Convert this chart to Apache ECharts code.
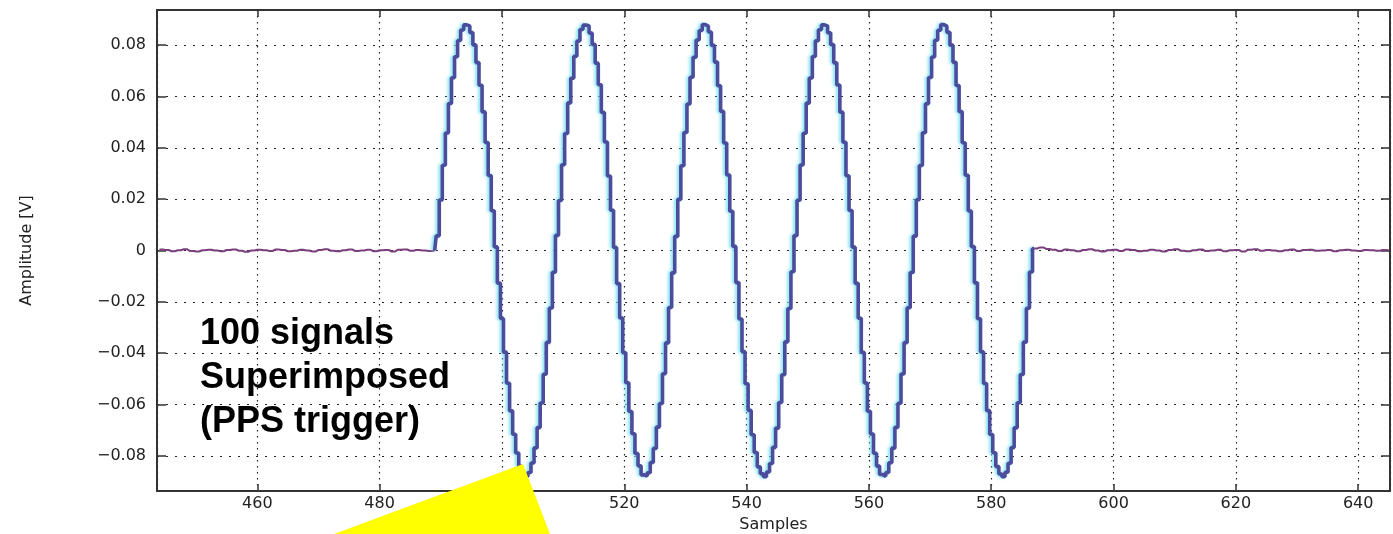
<!DOCTYPE html>
<html>
<head>
<meta charset="utf-8">
<script src="https://cdn.jsdelivr.net/npm/echarts@6/dist/echarts.min.js"></script>
<style>
  html, body { margin: 0; padding: 0; background: #fff; }
  #chart { width: 1393px; height: 534px; }
</style>
</head>
<body>
<div id="chart"></div>
<script>
// sample axis range
const xMin = 443.6;
const xMax = 645.2;
const yMin = -0.0937;
const yMax = 0.0937;

// flat part before the trigger, one value per sample from 444
const preStart = 444;
const preValues = [
    0.0004, 0.0002, -0.0003, 0.0001, 0.0005, -0.0002, -0.0004, 0.0001, 0.0003, 0.0000,
    -0.0003, 0.0002, 0.0004, -0.0001, -0.0005, 0.0000, 0.0003, 0.0001, -0.0002, 0.0004,
    0.0002, -0.0003, -0.0001, 0.0003, 0.0000, -0.0004, 0.0002, 0.0005, -0.0001, -0.0003,
    0.0001, 0.0004, -0.0002, 0.0000, 0.0003, -0.0003, 0.0001, 0.0002, -0.0004, 0.0003,
    0.0004, -0.0001, 0.0002, 0.0000, -0.0002, 0.0000
];

// 5 cycle burst, read every half sample from 489
const burstStart = 489;
const burstStep = 0.5;
const burstValues = [
    0.0000,
    0.0057, 0.0197, 0.0332, 0.0458, 0.0573, 0.0673, 0.0755, 0.0818, 0.0859, 0.0879, 0.0875, 0.0849, 0.0801,
    0.0732, 0.0644, 0.0540, 0.0421, 0.0292, 0.0155, 0.0014, -0.0127, -0.0265, -0.0396, -0.0517, -0.0625,
    -0.0716, -0.0789, -0.0841, -0.0872, -0.0880, -0.0865, -0.0828, -0.0769, -0.0690, -0.0594, -0.0482, -0.0358, -0.0224, -0.0085,
    0.0059, 0.0195, 0.0334, 0.0456, 0.0575, 0.0671, 0.0757, 0.0816, 0.0861, 0.0878, 0.0876, 0.0847, 0.0803,
    0.0730, 0.0646, 0.0538, 0.0423, 0.0290, 0.0157, 0.0012, -0.0129, -0.0263, -0.0398, -0.0515, -0.0627,
    -0.0714, -0.0791, -0.0839, -0.0874, -0.0879, -0.0866, -0.0826, -0.0771, -0.0688, -0.0596, -0.0480, -0.0360, -0.0222, -0.0087,
    0.0055, 0.0199, 0.0330, 0.0460, 0.0571, 0.0675, 0.0753, 0.0820, 0.0857, 0.0880, 0.0874, 0.0851, 0.0799,
    0.0734, 0.0642, 0.0542, 0.0419, 0.0294, 0.0153, 0.0016, -0.0125, -0.0267, -0.0394, -0.0519, -0.0623,
    -0.0718, -0.0787, -0.0843, -0.0870, -0.0881, -0.0863, -0.0830, -0.0767, -0.0692, -0.0592, -0.0484, -0.0356, -0.0226, -0.0083,
    0.0058, 0.0196, 0.0333, 0.0457, 0.0574, 0.0672, 0.0756, 0.0817, 0.0860, 0.0879, 0.0875, 0.0848, 0.0802,
    0.0731, 0.0645, 0.0539, 0.0422, 0.0291, 0.0156, 0.0013, -0.0128, -0.0264, -0.0397, -0.0516, -0.0626,
    -0.0715, -0.0790, -0.0840, -0.0873, -0.0880, -0.0865, -0.0827, -0.0770, -0.0689, -0.0595, -0.0481, -0.0359, -0.0223, -0.0086,
    0.0056, 0.0198, 0.0331, 0.0459, 0.0572, 0.0674, 0.0754, 0.0819, 0.0858, 0.0880, 0.0874, 0.0850, 0.0800,
    0.0733, 0.0643, 0.0541, 0.0420, 0.0293, 0.0154, 0.0015, -0.0126, -0.0266, -0.0395, -0.0518, -0.0624,
    -0.0717, -0.0788, -0.0842, -0.0871, -0.0881, -0.0864, -0.0829, -0.0768, -0.0691, -0.0593, -0.0483, -0.0357, -0.0225, -0.0084,
    0.0008
];

// flat part after the burst, one value per sample from 587
const postStart = 587;
const postValues = [
    0.0008, 0.0012, 0.0006, 0.0003, -0.0002, 0.0004, 0.0001, -0.0003, 0.0002, 0.0005,
    0.0000, -0.0004, 0.0001, 0.0003, -0.0002, 0.0004, 0.0002, -0.0003, -0.0001, 0.0003,
    0.0000, -0.0004, 0.0002, 0.0005, -0.0001, -0.0003, 0.0001, 0.0004, -0.0002, 0.0000,
    0.0003, -0.0003, 0.0001, 0.0002, -0.0004, 0.0003, 0.0005, -0.0001, 0.0002, 0.0000,
    -0.0003, 0.0001, 0.0004, -0.0002, 0.0002, 0.0003, -0.0001, 0.0000, 0.0002, -0.0003,
    0.0001, 0.0003, 0.0000, -0.0002, 0.0002, 0.0001, -0.0001, 0.0002, 0.0001
];

const noteLines = ['100 signals', 'Superimposed', '(PPS trigger)'];

function pairs(start, step, values) {
    return values.map((v, i) => [start + i * step, v]);
}

const chart = echarts.init(document.getElementById('chart'));

const tickFont = { fontFamily: 'DejaVu Sans', fontSize: 16, color: '#222' };
const frame = { show: true, onZero: false, lineStyle: { color: '#333', width: 2 } };

const option = {
    animation: false,
    backgroundColor: '#fff',
    grid: { left: 157, right: 3, top: 10, bottom: 43, outerBoundsMode: 'none', containLabel: false },
    xAxis: [
        {
            type: 'value',
            min: xMin,
            max: xMax,
            splitNumber: 10,
            name: 'Samples',
            nameLocation: 'middle',
            nameGap: 26,
            nameTextStyle: tickFont,
            axisLine: frame,
            axisTick: { inside: true, length: 7, lineStyle: { color: '#333', width: 1.5 } },
            axisLabel: Object.assign({ margin: 5, showMinLabel: false, showMaxLabel: false }, tickFont),
            splitLine: { show: true, lineStyle: { color: '#222', width: 1.2, type: [1.5, 4.5] } }
        },
        {
            type: 'value',
            position: 'top',
            min: xMin,
            max: xMax,
            splitNumber: 10,
            axisLine: frame,
            axisTick: { inside: true, length: 7, lineStyle: { color: '#333', width: 1.5 } },
            axisLabel: { show: false },
            splitLine: { show: false }
        }
    ],
    yAxis: [
        {
            type: 'value',
            min: yMin,
            max: yMax,
            splitNumber: 10,
            name: 'Amplitude [V]',
            nameLocation: 'middle',
            nameGap: 122,
            nameTextStyle: tickFont,
            axisLine: frame,
            axisTick: { inside: true, length: 9, lineStyle: { color: '#333', width: 1.5 } },
            axisLabel: Object.assign({
                margin: 11,
                showMinLabel: false,
                showMaxLabel: false,
                formatter: function (v) {
                    if (Math.abs(v) < 1e-9) return '0';
                    return (v < 0 ? '\u2212' : '') + Math.abs(v).toFixed(2);
                }
            }, tickFont),
            splitLine: { show: true, lineStyle: { color: '#222', width: 1.2, type: [2, 7] } }
        },
        {
            type: 'value',
            position: 'right',
            min: yMin,
            max: yMax,
            splitNumber: 10,
            axisLine: frame,
            axisTick: { inside: true, length: 9, lineStyle: { color: '#333', width: 1.5 } },
            axisLabel: { show: false },
            splitLine: { show: false }
        }
    ],
    series: [
        {
            name: 'pre',
            type: 'line',
            step: 'middle',
            showSymbol: false,
            z: 3,
            lineStyle: { color: '#7a3f7c', width: 2 },
            data: pairs(preStart, 1, preValues)
        },
        {
            name: 'post',
            type: 'line',
            step: 'middle',
            showSymbol: false,
            z: 3,
            lineStyle: { color: '#7a3f7c', width: 2 },
            data: pairs(postStart, 1, postValues)
        },
        {
            name: 'burst',
            type: 'line',
            step: 'middle',
            showSymbol: false,
            z: 4,
            lineStyle: {
                color: '#4b4c9c',
                width: 3.6,
                shadowColor: 'rgba(120, 225, 240, 0.9)',
                shadowBlur: 3,
                shadowOffsetX: -2
            },
            data: pairs(burstStart, burstStep, burstValues)
        }
    ],
    graphic: [
        {
            type: 'text',
            left: 200,
            top: 312,
            z: 50,
            style: {
                text: noteLines.join('\n'),
                font: 'bold 36px "Liberation Sans", Arial, sans-serif',
                fill: '#000',
                lineHeight: 44
            }
        },
        {
            type: 'polygon',
            z: 60,
            shape: { points: [[334, 534], [523, 464], [550, 534]] },
            style: { fill: '#ffff00' }
        }
    ]
};

chart.setOption(option);
</script>
</body>
</html>
